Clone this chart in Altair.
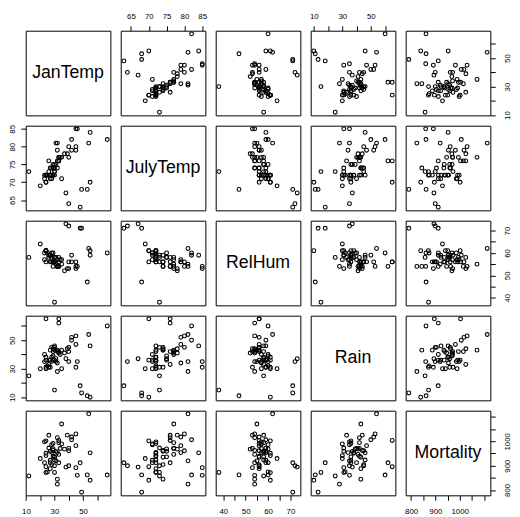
import altair as alt
import pandas as pd

FONT = "Liberation Sans"

names = ["JanTemp", "JulyTemp", "RelHum", "Rain", "Mortality"]

jan_temp = [27, 23, 29, 45, 35, 45, 30, 30, 24, 27, 42, 26, 34, 28, 31, 46, 30, 30, 27, 24,
            45, 24, 40, 27, 55, 29, 31, 32, 53, 35, 42, 67, 20, 12, 40, 30, 54, 33, 32, 29,
            38, 29, 33, 39, 25, 32, 55, 48, 49, 40, 28, 24, 26, 23, 37, 32, 33, 24, 33, 28]
july_temp = [71, 72, 74, 79, 77, 80, 74, 73, 70, 72, 79, 76, 77, 71, 75, 85, 75, 73, 74, 72,
             85, 72, 77, 72, 84, 75, 81, 74, 68, 71, 82, 82, 69, 73, 80, 72, 81, 77, 76, 72,
             67, 72, 77, 78, 72, 79, 70, 63, 68, 64, 74, 72, 73, 71, 78, 81, 76, 70, 76, 72]
rel_hum = [59, 57, 54, 56, 55, 54, 56, 56, 61, 59, 56, 58, 57, 60, 58, 54, 58, 38, 59, 61,
           53, 61, 53, 56, 59, 60, 55, 54, 47, 57, 59, 60, 64, 58, 56, 58, 62, 58, 54, 56,
           73, 56, 54, 53, 60, 57, 61, 71, 71, 72, 56, 61, 59, 60, 52, 54, 56, 56, 54, 58]
rain = [36, 35, 44, 47, 43, 53, 43, 45, 36, 36, 52, 33, 40, 35, 37, 35, 36, 15, 31, 30,
        31, 31, 42, 43, 46, 39, 35, 43, 11, 30, 50, 60, 30, 25, 45, 46, 54, 42, 42, 36,
        37, 42, 41, 44, 32, 34, 10, 18, 13, 35, 45, 38, 31, 40, 41, 28, 65, 65, 62, 38]
mortality = [921.9, 997.9, 962.4, 982.3, 1071.3, 1030.4, 934.7, 899.5, 1001.9, 912.3,
             1017.6, 1024.9, 970.5, 986.0, 958.8, 860.1, 936.2, 871.8, 959.2, 941.2,
             891.7, 871.3, 971.1, 887.5, 952.5, 968.7, 919.7, 844.1, 861.8, 989.3,
             1006.5, 861.4, 929.2, 857.6, 961.0, 923.2, 1113.2, 994.6, 1015.0, 991.3,
             894.0, 938.5, 946.2, 1025.5, 874.3, 953.6, 839.7, 911.7, 790.7, 899.3,
             904.2, 950.7, 972.5, 912.2, 967.8, 823.8, 1003.5, 895.7, 911.8, 954.4]

df = pd.DataFrame({
    "JanTemp": jan_temp,
    "JulyTemp": july_temp,
    "RelHum": rel_hum,
    "Rain": rain,
    "Mortality": mortality,
})


def rdomain(vals):
    lo, hi = min(vals), max(vals)
    r = hi - lo
    return [lo - 0.04 * r, hi + 0.04 * r]


dom = {n: rdomain(df[n].tolist()) for n in names}

tick_values = {
    "JanTemp": [10, 20, 30, 40, 50, 60],
    "JulyTemp": [65, 70, 75, 80, 85],
    "RelHum": [40, 45, 50, 55, 60, 65, 70],
    "Rain": [10, 20, 30, 40, 50, 60],
    "Mortality": [800, 850, 900, 950, 1000, 1050, 1100],
}
label_exprs = {
    "JanTemp": "datum.value % 20 == 10 ? datum.label : ''",
    "JulyTemp": "datum.label",
    "RelHum": "datum.value % 10 == 0 ? datum.label : ''",
    "Rain": "datum.value % 20 == 10 ? datum.label : ''",
    "Mortality": "(datum.value == 800 || datum.value == 900 || datum.value == 1000) ? datum.label : ''",
}


def make_axis(var, orient):
    kw = dict(orient=orient, values=tick_values[var], labelExpr=label_exprs[var],
              format="d", title=None, domain=False, grid=False, tickSize=5,
              tickColor="black", tickWidth=1, labelColor="black", labelFont=FONT,
              labelFontSize=8, labelFlush=False, labelOverlap=False)
    if orient == "top":
        kw.update(labelAngle=0, labelAlign="center", labelBaseline="alphabetic", labelPadding=7)
    elif orient == "bottom":
        kw.update(labelAngle=0, labelAlign="center", labelBaseline="top", labelPadding=7.8)
    elif orient == "left":
        kw.update(labelAngle=270, labelAlign="center", labelBaseline="alphabetic", labelPadding=6.4)
    else:
        kw.update(labelAngle=270, labelAlign="center", labelBaseline="top", labelPadding=8.4)
    return alt.Axis(**kw)


def panel(i, j):
    yv = names[i]
    xv = names[j]
    xaxis = None
    yaxis = None
    if i == 0 and j % 2 == 1:
        xaxis = make_axis(xv, "top")
    if i == 4 and j % 2 == 0:
        xaxis = make_axis(xv, "bottom")
    if j == 0 and i % 2 == 1:
        yaxis = make_axis(yv, "left")
    if j == 4 and i % 2 == 0:
        yaxis = make_axis(yv, "right")
    sub = pd.DataFrame({"xv": df[xv], "yv": df[yv]})
    pts = alt.Chart(sub).mark_point(
        shape="circle", filled=False, size=15, strokeWidth=1.1,
        color="black", opacity=1 if i != j else 0
    ).encode(
        x=alt.X("xv:Q", scale=alt.Scale(domain=dom[xv], nice=False, zero=False), axis=xaxis),
        y=alt.Y("yv:Q", scale=alt.Scale(domain=dom[yv], nice=False, zero=False), axis=yaxis),
    )
    if i == j:
        txt = alt.Chart(pd.DataFrame({"label": [xv]})).mark_text(
            font=FONT, fontSize=18, color="black", align="center", baseline="middle"
        ).encode(x=alt.value(43), y=alt.value(43), text="label:N")
        return alt.layer(pts, txt).properties(width=86, height=86)
    return pts.properties(width=86, height=86)


panels = [panel(i, j) for i in range(5) for j in range(5)]

chart = alt.concat(*panels, columns=5, spacing=10.5, bounds="flush").properties(
    padding={"left": 0, "top": 0, "right": 0, "bottom": 0},
    background="white",
).configure_view(stroke="black", strokeWidth=1)

chart.save("out.html", embed_options={"renderer": "svg", "actions": False})
